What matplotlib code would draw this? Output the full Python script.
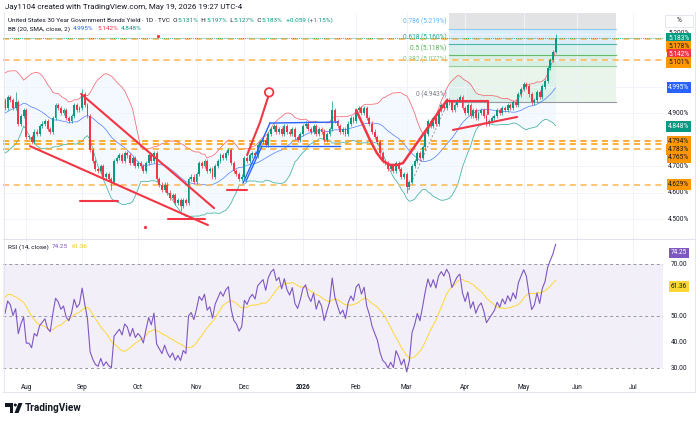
#%% IMPORT

import numpy as np
import pandas as pd
import matplotlib
matplotlib.use("Agg")
import matplotlib.pyplot as plt
from matplotlib.patches import Rectangle, Ellipse, Polygon
from matplotlib.lines import Line2D
from matplotlib.transforms import blended_transform_factory
from pandas.tseries.holiday import USFederalHolidayCalendar
from pandas.tseries.offsets import CustomBusinessDay

plt.rcParams['font.family'] = ['Roboto', 'DejaVu Sans']

#%% DADOS

# closes before the window (only used to warm up BB and RSI)
pre_closes = [4.87, 4.97, 4.95, 4.93, 4.94, 4.87, 4.90, 4.90, 4.94, 4.90, 4.89, 4.89,
              4.87, 4.85, 4.82, 4.84, 4.83, 4.78, 4.78, 4.79, 4.86, 4.93, 4.92, 4.88,
              4.92, 4.96, 4.98, 5.01, 5.01, 4.98, 4.99, 4.95]

# daily closes, Jul 22 2025 -> May 19 2026
closes = [4.92, 4.96, 4.95, 4.92, 4.94, 4.86, 4.89, 4.91,
          # aug
          4.81, 4.81, 4.79, 4.83, 4.82, 4.85, 4.86, 4.87, 4.84, 4.83, 4.88, 4.93,
          4.92, 4.90, 4.91, 4.88, 4.87, 4.89, 4.93, 4.91, 4.92,
          # sep
          4.97, 4.93, 4.89, 4.76, 4.72, 4.69, 4.68, 4.70, 4.66, 4.67, 4.65, 4.64,
          4.72, 4.73, 4.74, 4.72, 4.75, 4.74, 4.71, 4.73, 4.70,
          # oct
          4.71, 4.70, 4.68, 4.71, 4.74, 4.72, 4.75, 4.65, 4.63, 4.61, 4.63, 4.60,
          4.58, 4.59, 4.56, 4.57, 4.55, 4.57, 4.56, 4.65, 4.66, 4.64,
          # nov
          4.67, 4.71, 4.70, 4.72, 4.68, 4.69, 4.66, 4.70, 4.72, 4.74, 4.73, 4.75,
          4.76, 4.71, 4.68, 4.67, 4.65, 4.66,
          # dec
          4.73, 4.72, 4.74, 4.75, 4.74, 4.78, 4.79, 4.80, 4.78, 4.82, 4.84, 4.85,
          4.83, 4.84, 4.82, 4.85, 4.83, 4.82, 4.84, 4.81, 4.80, 4.82,
          # jan
          4.85, 4.86, 4.84, 4.83, 4.85, 4.82, 4.84, 4.83, 4.80, 4.82, 4.84, 4.91,
          4.87, 4.85, 4.83, 4.84, 4.82, 4.86, 4.88, 4.87,
          # feb
          4.91, 4.92, 4.90, 4.92, 4.88, 4.86, 4.83, 4.81, 4.79, 4.75, 4.72, 4.71,
          4.69, 4.70, 4.68, 4.71, 4.69, 4.66, 4.67,
          # mar
          4.62, 4.64, 4.70, 4.72, 4.75, 4.73, 4.77, 4.82, 4.87, 4.85, 4.88, 4.86,
          4.91, 4.93, 4.92, 4.95, 4.94, 4.91, 4.93, 4.95, 4.96, 4.92,
          # apr
          4.90, 4.93, 4.89, 4.91, 4.88, 4.90, 4.91, 4.89, 4.86, 4.87, 4.88, 4.89,
          4.91, 4.90, 4.92, 4.91, 4.93, 4.92, 4.94, 4.93, 4.97, 4.99,
          # may
          5.01, 5.00, 4.97, 4.94, 4.95, 4.98, 4.96, 5.00, 5.02, 5.07, 5.10, 5.131, 5.183]

first_day = "2025-07-22"
last_ohlc = [5.131, 5.197, 5.127, 5.183]
# bars with long shadows: index -> (high, low)
long_wicks = {4: (4.98, None), 29: (4.99, None), 40: (None, 4.61), 66: (None, 4.53),
              123: (4.945, None), 151: (None, 4.60), 158: (None, 4.76)}

bb_last = [4.995, 5.142, 4.848]        # basis, upper, lower
rsi_last = [74.25, 61.36]              # rsi, rsi-ma
hlines = [5.178, 5.101, 4.794, 4.783, 4.765, 4.629]

fib_low, fib_high = 4.9432, 5.2937
fib_ratios = [0, 0.382, 0.5, 0.618, 0.786, 1.0]
fib_start, fib_end = 166.9, 229.7

price_ticks = [4.5, 4.6, 4.7, 4.8, 4.9, 5.0, 5.1, 5.2]
price_tick_labels = [4.5, 4.6, 4.7, 4.9, 5.2]
rsi_ticks = [30, 40, 50, 60, 70]
rsi_tick_labels = [30, 40, 50, 70]
month_names = ['Aug', 'Sep', 'Oct', 'Nov', 'Dec', '2026', 'Feb', 'Mar', 'Apr', 'May', 'Jun', 'Jul']

# hand drawings (bar index, yield)
wedge_low = [[9.4, 76.3], [4.775, 4.477]]
wedge_high = [[28.6, 78.6], [4.972, 4.541]]
red_flats = [[[28.2, 42.5], [4.568, 4.568]], [[61.3, 75.2], [4.50, 4.50]],
             [[83.5, 91.0], [4.609, 4.609]], [[166.2, 181.6], [4.945, 4.945]],
             [[181.6, 181.6], [4.945, 4.898]], [[168.4, 192.5], [4.836, 4.885]]]
hook = [[91.0, 93.2, 95.9, 97.7, 98.9], [4.741, 4.798, 4.866, 4.923, 4.960]]
hook_loop = [99.3, 4.978]
cup = [[132.0, 134.6, 137.2, 139.8, 142.1, 144.7, 147.4, 149.6, 166.2],
       [4.911, 4.855, 4.798, 4.749, 4.719, 4.704, 4.704, 4.711, 4.949]]
blue_lines = [[[89.5, 99.6], [4.636, 4.862]], [[90.6, 96.6], [4.643, 4.775]],
              [[99.6, 125.2], [4.862, 4.866]], [[96.6, 125.9], [4.775, 4.775]]]
fib_trend = [[151.5, 166.5], [4.609, 4.941]]
red_dots = [[52.6, 4.470], [57.5, 5.191]]

#%% ESTILO

W, H = 700, 423
GREEN, RED, BLUE, ORANGE = '#089981', '#f23645', '#2962ff', '#ff9800'
PURPLE, YELLOW, TXT, GRID = '#7e57c2', '#fdd835', '#131722', '#f0f3fa'
FS = 4.7
hline_cols = ['#ffb74d', '#ffb74d', '#ff9800', '#ff9800', '#ffa726', '#ffb74d']


def rect(x0, y0, x1, y1):
    return [x0 / W, 1 - y1 / H, (x1 - x0) / W, (y1 - y0) / H]


def pieces(fig, x, y, parts, size, weight='normal'):
    r = fig.canvas.get_renderer()
    for s, col in parts:
        t = fig.text(x / W, 1 - y / H, s, color=col, fontsize=size, va='center',
                     ha='left', fontweight=weight)
        x += t.get_window_extent(renderer=r).width


def axis_label(ax, y, s, fc=None, tc=TXT, z=20):
    kw = {}
    if fc is not None:
        kw['bbox'] = dict(boxstyle='square,pad=0.28', fc=fc, ec='none')
    ax.text(1.024, y, s, transform=ax.get_yaxis_transform(), ha='center', va='center',
            fontsize=FS, color=tc, clip_on=False, zorder=z, **kw)

#%% CALCULOS

c = np.array(closes)
allc = np.r_[pre_closes, closes]
n = len(c)
idx = np.arange(n)

cal = CustomBusinessDay(calendar=USFederalHolidayCalendar())
dates = pd.date_range(first_day, periods=n + 45, freq=cal)
month_pos = []
for k in range(1, len(dates)):
    if dates[k].month != dates[k - 1].month:
        month_pos.append(k)
month_pos = month_pos[:len(month_names)]

o = np.r_[pre_closes[-1], c[:-1]]
o[-1] = last_ohlc[0]
hi = np.maximum(o, c) + 0.008
lo = np.minimum(o, c) - 0.008
hi[-1], lo[-1] = last_ohlc[1], last_ohlc[2]
for k, (h, l) in long_wicks.items():
    if h is not None:
        hi[k] = h
    if l is not None:
        lo[k] = l

s = pd.Series(allc)
basis = s.rolling(20).mean()
dev = s.rolling(20).std(ddof=0)
upper = (basis + 2 * dev).values[-n:]
lower = (basis - 2 * dev).values[-n:]
basis = basis.values[-n:]

d = np.diff(allc)
g = np.clip(d, 0, None)
l = np.clip(-d, 0, None)
ag = np.zeros(len(d))
al = np.zeros(len(d))
ag[13], al[13] = g[:14].mean(), l[:14].mean()
for k in range(14, len(d)):
    ag[k] = (ag[k - 1] * 13 + g[k]) / 14
    al[k] = (al[k - 1] * 13 + l[k]) / 14
rsi_all = 100 - 100 / (1 + ag / np.maximum(al, 1e-9))
rsi_all[:13] = np.nan
rsi_ma = pd.Series(rsi_all).rolling(14).mean().values[-n:]
rsi = rsi_all[-n:]

#%% GRAFICO

fig = plt.figure(figsize=(W / 100, H / 100), dpi=100)
fig.patch.set_facecolor('white')

xl = ((3 - 5) / 2.66, (663 - 5) / 2.66)
ax = fig.add_axes(rect(3, 13, 663, 239))
ax.set_xlim(*xl)
ax.set_ylim(5.2 - (239 - 33.5) / 265, 5.2 + (33.5 - 13) / 265)
ar = fig.add_axes(rect(3, 239, 663, 375))
ar.set_xlim(*xl)
ar.set_ylim(50 - (375 - 316) / 2.6, 50 + (316 - 239) / 2.6)

for a in (ax, ar):
    for sp in a.spines.values():
        sp.set_visible(False)
    a.set_xticks(month_pos)
    a.tick_params(length=0, labelbottom=False, labelleft=False)
    a.grid(color=GRID, lw=0.7, zorder=0)
ax.set_yticks(price_ticks)
ar.set_yticks([40, 60])

# fib box
levels = [fib_low + r * (fib_high - fib_low) for r in fib_ratios]
fills = ['#e9f5ea', '#d9efe3', '#d6efeb', '#dcedfa', '#e2e3e5']
lcols = ['#9598a1', '#8fcf92', '#66bb6a', '#4db6ac', '#90caf9']
for k in range(5):
    ax.add_patch(Rectangle((fib_start, levels[k]), fib_end - fib_start,
                           levels[k + 1] - levels[k], fc=fills[k], ec='none', zorder=1))
    ax.plot([fib_start, fib_end], [levels[k]] * 2, color=lcols[k], lw=0.8, zorder=2)
fib_txt = ['#787b86', '#81c784', '#4caf50', '#26a69a', '#64b5f6']
for k in range(5):
    ax.text(fib_start - 1.0, levels[k] + 0.011, '%g (%.3f%%)' % (fib_ratios[k], levels[k]),
            ha='right', va='bottom', fontsize=FS, color=fib_txt[k], zorder=3)
ax.plot(*fib_trend, color='#9598a1', lw=0.7, ls=(0, (2, 2)), zorder=3)

# bollinger
ax.fill_between(idx, lower, upper, color='#2196f3', alpha=0.05, lw=0, zorder=1)
ax.plot(idx, upper, color=RED, lw=0.55, alpha=0.75, zorder=3)
ax.plot(idx, basis, color=BLUE, lw=0.55, alpha=0.75, zorder=3)
ax.plot(idx, lower, color=GREEN, lw=0.55, alpha=0.75, zorder=3)

# horizontal levels
for v, col in zip(hlines, hline_cols):
    ax.axhline(v, color=col, lw=1.1, ls=(0, (4, 3)), zorder=4)
ax.axhline(c[-1], color=GREEN, lw=0.6, ls=(0, (1, 1.5)), zorder=4)

# candles
cols = np.where(c >= o, GREEN, RED)
ax.vlines(idx, lo, hi, colors=cols, lw=0.5, zorder=5)
ax.bar(idx, np.maximum(np.abs(c - o), 0.003), bottom=np.minimum(o, c), width=0.72,
       color=cols, lw=0, zorder=6)

# drawings
for xs, ys in [wedge_low, wedge_high] + red_flats:
    ax.plot(xs, ys, color=RED, lw=1.5, solid_capstyle='round', zorder=7)
ax.plot(*hook, color=RED, lw=1.5, solid_capstyle='round', zorder=7)
ax.add_patch(Ellipse(hook_loop, 3.2, 0.032, fc='none', ec=RED, lw=1.3, zorder=7))
ax.plot(*cup, color=RED, lw=1.8, solid_capstyle='round', zorder=7)
for xs, ys in blue_lines:
    ax.plot(xs, ys, color=BLUE, lw=1.0, zorder=7)
for px, py in red_dots:
    ax.plot(px, py, 'o', color=RED, ms=1.3, zorder=7)

# price axis labels
for v in price_tick_labels:
    axis_label(ax, v, '%.3f%%' % v, z=15)
tags = [(c[-1], GREEN, 'white'), (hlines[0], ORANGE, TXT), (bb_last[1], RED, 'white'),
        (hlines[1], ORANGE, TXT), (bb_last[0], BLUE, 'white'), (bb_last[2], GREEN, 'white'),
        (hlines[2], ORANGE, TXT), (hlines[3], ORANGE, TXT), (hlines[4], ORANGE, TXT),
        (hlines[5], ORANGE, TXT)]
prev = 99
for v, fc, tc in tags:
    y = min(v, prev - 0.031)
    axis_label(ax, y, '%.3f%%' % v, fc, tc)
    prev = y

# rsi pane
ar.axhspan(30, 70, color=PURPLE, alpha=0.09, lw=0, zorder=1)
for v in (30, 50, 70):
    ar.axhline(v, color='#9598a1', lw=0.7, ls=(0, (3, 3)), zorder=2)
ar.plot(idx, rsi_ma, color=YELLOW, lw=0.7, zorder=3)
ar.plot(idx, rsi, color=PURPLE, lw=0.8, zorder=4)
for v in rsi_tick_labels:
    axis_label(ar, v, '%.2f' % v, z=15)
axis_label(ar, rsi_last[0], '%.2f' % rsi_last[0], PURPLE, 'white')
axis_label(ar, rsi_last[1], '%.2f' % rsi_last[1], YELLOW, TXT)

# time axis
tr = blended_transform_factory(ar.transData, fig.transFigure)
for p, name in zip(month_pos, month_names):
    ar.text(p, 1 - 387 / H, name, transform=tr, ha='center', va='center', fontsize=FS,
            color=TXT, fontweight='bold' if name == '2026' else 'normal', clip_on=False)

# frame
fig.add_artist(Line2D([3 / W, 695 / W], [1 - 239 / H] * 2, color='#e0e3eb', lw=0.8))
fig.add_artist(Line2D([3 / W, 695 / W], [1 - 392 / H] * 2, color='#e0e3eb', lw=0.6))
fig.add_artist(Line2D([695 / W] * 2, [1 - 12 / H, 1 - 392 / H], color='#e0e3eb', lw=0.6))
fig.add_artist(Line2D([3.5 / W] * 2, [1 - 12 / H, 1 - 392 / H], color='#e0e3eb', lw=0.6))
fig.add_artist(Rectangle((665 / W, 1 - 27 / H), 28 / W, 12 / H, fc='white', ec='#e0e3eb', lw=0.6))
fig.text(679 / W, 1 - 21 / H, '%', ha='center', va='center', fontsize=FS, color=TXT)

# header
pieces(fig, 5, 7.5, [('Jay1104 created with TradingView.com, May 19, 2026 19:27 UTC-4', TXT)], 5.8)
pieces(fig, 8, 20, [('United States 30 Year Government Bonds Yield · 1D · TVC  O', TXT),
                    ('5.131%', GREEN), ('  H', TXT), ('5.197%', GREEN), ('  L', TXT),
                    ('5.127%', GREEN), ('  C', TXT), ('5.183%', GREEN),
                    ('  +0.059 (+1.15%)', GREEN)], 4.55)
pieces(fig, 8, 29, [('BB (20, SMA, close, 2)  ', TXT), ('%.3f%%' % bb_last[0], BLUE), ('  ', TXT),
                    ('%.3f%%' % bb_last[1], RED), ('  ', TXT), ('%.3f%%' % bb_last[2], GREEN)], 4.55)
pieces(fig, 8, 247, [('RSI (14, close)  ', TXT), ('%.2f' % rsi_last[0], PURPLE), ('  ', TXT),
                     ('%.2f' % rsi_last[1], '#f0c419')], 4.55)

# logo
fig.add_artist(Polygon([(5 / W, 1 - 403 / H), (13 / W, 1 - 403 / H), (13 / W, 1 - 413 / H),
                        (9.5 / W, 1 - 413 / H), (9.5 / W, 1 - 406.5 / H), (5 / W, 1 - 406.5 / H)],
                       closed=True, fc=TXT, ec='none'))
fig.add_artist(Ellipse((15.3 / W, 1 - 405 / H), 3 / W, 3 / H, fc=TXT, ec='none'))
fig.add_artist(Polygon([(18.5 / W, 1 - 403 / H), (22.5 / W, 1 - 403 / H), (18.5 / W, 1 - 413 / H),
                        (14.5 / W, 1 - 413 / H)], closed=True, fc=TXT, ec='none'))
fig.text(25 / W, 1 - 408 / H, 'TradingView', fontsize=7.2, fontweight='bold', color=TXT,
         ha='left', va='center')

fig.savefig('out.png', dpi=100)
